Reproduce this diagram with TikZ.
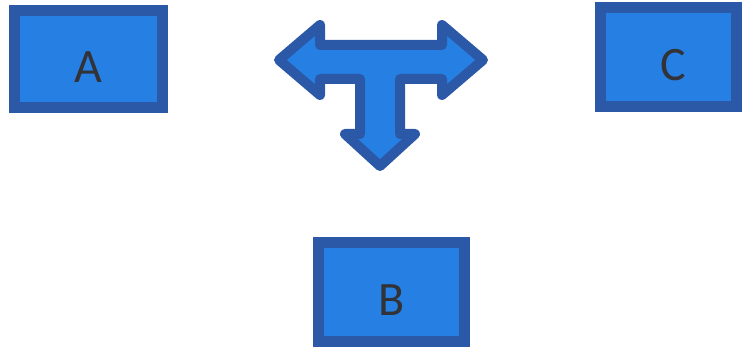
\documentclass[tikz,border=0pt]{standalone}
\usepackage{fontspec}
\setmainfont{Carlito}
\definecolor{boxfill}{RGB}{38,128,228}
\definecolor{boxline}{RGB}{44,88,168}
\definecolor{txt}{RGB}{50,50,55}
\newcommand{\lowered}[1]{\raisebox{-8pt}[\height][\depth]{#1}}
\begin{document}
\begin{tikzpicture}[x=1pt,y=-1pt,
  blockbox/.style={draw=boxline,fill=boxfill,line width=11pt,rectangle,inner sep=0pt,
     text=txt,font=\fontsize{48}{58}\selectfont},
  tarrow/.style={draw=boxline,fill=boxfill,line width=10pt,line join=round}]
\useasboundingbox (0,0) rectangle (742,347);
\node[blockbox,minimum width=148pt,minimum height=97pt] (A) at (88.5,59) {\lowered{A}};
\node[blockbox,minimum width=136pt,minimum height=99pt] (C) at (668.5,57) {\hspace{10pt}\lowered{C}};
\node[blockbox,minimum width=146pt,minimum height=99pt] (B) at (391.5,292) {\lowered{B}};
\draw[tarrow] (279,60) -- (320,25) -- (320,45) -- (442,45) -- (442,25) -- (483,60)
  -- (442,95) -- (442,79) -- (400,79) -- (400,134) -- (415,134) -- (380,166)
  -- (345,134) -- (360,134) -- (360,79) -- (320,79) -- (320,95) -- cycle;
\end{tikzpicture}
\end{document}
